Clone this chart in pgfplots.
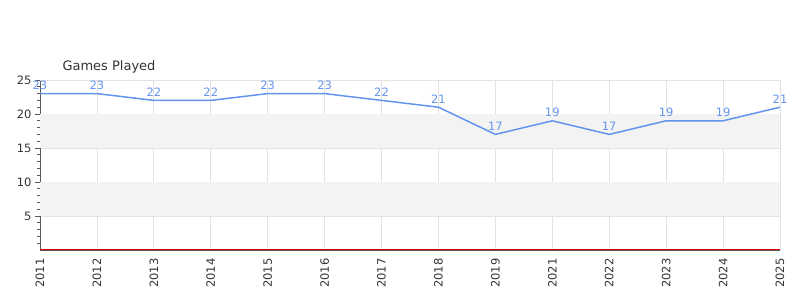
\documentclass[border=0pt]{standalone}
\usepackage{pgfplots}
\pgfplotsset{compat=1.18}
\usepackage{fontspec}
\setmainfont{DejaVu Sans}
\definecolor{lineblue}{RGB}{100,149,237}
\definecolor{band}{RGB}{243,243,243}
\definecolor{gridc}{RGB}{226,226,226}
\definecolor{axc}{RGB}{90,90,90}
\definecolor{txt}{RGB}{51,51,51}
\begin{document}
\begin{tikzpicture}[x=1pt,y=1pt]
\path[use as bounding box] (0,0) rectangle (800,300);
\begin{axis}[
  at={(40pt,50pt)}, anchor=south west,
  scale only axis, width=740pt, height=170pt,
  xmin=0, xmax=13, ymin=0, ymax=25,
  xtick={0,...,13},
  xticklabels={2011,2012,2013,2014,2015,2016,2017,2018,2019,2021,2022,2023,2024,2025},
  ytick={5,10,15,20,25},
  minor ytick={1,2,3,4,6,7,8,9,11,12,13,14,16,17,18,19,21,22,23,24},
  axis lines*=left,
  axis line style={-, axc},
  x axis line style={line width=1.4pt},
  y axis line style={line width=0.8pt},
  grid=major,
  major grid style={gridc, line width=0.8pt},
  minor grid style={draw=none},
  tick align=outside,
  major tick length=5pt, minor tick length=3pt,
  x tick style={draw=none},
  major y tick style={axc, line width=0.8pt},
  minor y tick style={axc, line width=0.7pt},
  tick label style={font=\fontsize{11.5}{13}\selectfont, text=txt},
  xticklabel style={rotate=90, anchor=east},
  /pgf/number format/assume math mode=true,
  clip=false,
]
\fill[band] (rel axis cs:0,0.2) rectangle (rel axis cs:1,0.4);
\fill[band] (rel axis cs:0,0.6) rectangle (rel axis cs:1,0.8);
\draw[gridc, line width=0.8pt] (rel axis cs:0,1) -- (rel axis cs:1,1);
\draw[gridc, line width=0.8pt] (rel axis cs:1,0) -- (rel axis cs:1,1);
\addplot[red!85!black, line width=0.9pt, yshift=0.6pt] coordinates {(0,0) (13,0)};
\addplot[lineblue, line width=1.5pt, mark=none,
  nodes near coords,
  every node near coord/.style={font=\fontsize{11.5}{13}\selectfont, text=lineblue, anchor=south, yshift=0pt}]
coordinates {
(0,23) (1,23) (2,22) (3,22) (4,23) (5,23) (6,22) (7,21) (8,17) (9,19) (10,17) (11,19) (12,19) (13,21)
};
\end{axis}
\node[font=\fontsize{13}{15}\selectfont, text=txt] at (109,233) {Games Played};
\end{tikzpicture}
\end{document}
